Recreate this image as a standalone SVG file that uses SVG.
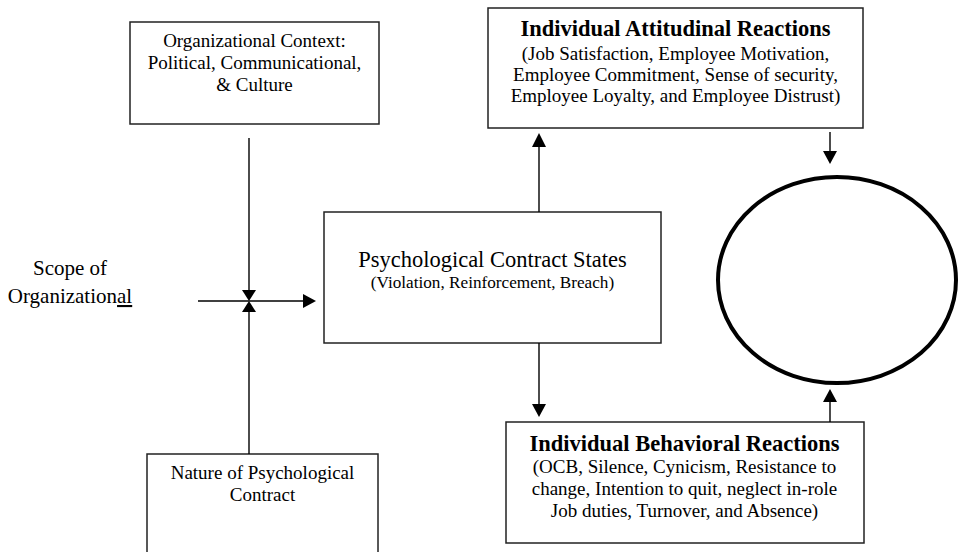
<svg xmlns="http://www.w3.org/2000/svg" width="960" height="552" viewBox="0 0 960 552">
  <style>
    .box { fill: #ffffff; stroke: #222222; stroke-width: 1.5; }
    .txt { font-family: "Liberation Serif", "Times New Roman", serif; fill: #000000; text-anchor: middle; }
    .t19 { font-size: 19px; }
    .t21 { font-size: 21px; }
    .sub { font-size: 17.2px; }
    .big { font-size: 22.5px; }
    .bold { font-size: 22.5px; font-weight: bold; }
    .edge { stroke: #000000; stroke-width: 1.4; fill: none; }
    .head { fill: #000000; }
  </style>
  <rect width="960" height="552" fill="#ffffff"/>

  <g id="org-context">
    <rect class="box" x="130" y="22" width="249" height="102"/>
    <text class="txt t19" x="254.5" y="47">Organizational Context:</text>
    <text class="txt t19" x="254.5" y="69">Political, Communicational,</text>
    <text class="txt t19" x="254.5" y="91">&amp; Culture</text>
  </g>

  <g id="scope">
    <text class="txt t21" x="70" y="275">Scope of</text>
    <text class="txt t21" x="70" y="303">Organization<tspan style="text-decoration: underline">al</tspan></text>
  </g>

  <g id="nature">
    <rect class="box" x="147" y="454" width="231" height="110"/>
    <text class="txt t19" x="262.5" y="479">Nature of Psychological</text>
    <text class="txt t19" x="262.5" y="501">Contract</text>
  </g>

  <g id="states">
    <rect class="box" x="324" y="212" width="337" height="131"/>
    <text class="txt big" x="492.5" y="267">Psychological Contract States</text>
    <text class="txt sub" x="492.5" y="288">(Violation, Reinforcement, Breach)</text>
  </g>

  <g id="attitudinal">
    <rect class="box" x="488" y="8" width="375" height="120"/>
    <text class="txt bold" x="675.5" y="36">Individual Attitudinal Reactions</text>
    <text class="txt t19" x="675.5" y="60">(Job Satisfaction, Employee Motivation,</text>
    <text class="txt t19" x="675.5" y="81">Employee Commitment, Sense of security,</text>
    <text class="txt t19" x="675.5" y="102">Employee Loyalty, and Employee Distrust)</text>
  </g>

  <g id="behavioral">
    <rect class="box" x="506" y="422" width="358" height="121"/>
    <text class="txt bold" x="684.5" y="451">Individual Behavioral Reactions</text>
    <text class="txt t19" x="684.5" y="473">(OCB, Silence, Cynicism, Resistance to</text>
    <text class="txt t19" x="684.5" y="495">change, Intention to quit, neglect in-role</text>
    <text class="txt t19" x="684.5" y="517">Job duties, Turnover, and Absence)</text>
  </g>

  <g id="outcome">
    <ellipse cx="837" cy="280" rx="119" ry="103" fill="#ffffff" stroke="#000000" stroke-width="4"/>
  </g>

  <g id="connectors">
    <!-- context and nature lines meeting the scope line -->
    <line class="edge" x1="249" y1="138" x2="249" y2="290"/>
    <polygon class="head" points="242,290 256,290 249,301"/>
    <line class="edge" x1="249" y1="454" x2="249" y2="312"/>
    <polygon class="head" points="242,312 256,312 249,301"/>
    <line class="edge" x1="198" y1="301" x2="304" y2="301"/>
    <polygon class="head" points="303,294 303,308 316,301"/>
    <!-- states to attitudinal -->
    <line class="edge" x1="539" y1="212" x2="539" y2="146"/>
    <polygon class="head" points="532,147 546,147 539,133"/>
    <!-- states to behavioral -->
    <line class="edge" x1="539" y1="343" x2="539" y2="405"/>
    <polygon class="head" points="532,404 546,404 539,417"/>
    <!-- attitudinal to outcome -->
    <line class="edge" x1="830" y1="132" x2="830" y2="152"/>
    <polygon class="head" points="823,151 837,151 830,164"/>
    <!-- behavioral to outcome -->
    <line class="edge" x1="830" y1="422" x2="830" y2="401"/>
    <polygon class="head" points="823,402 837,402 830,389"/>
  </g>
</svg>
